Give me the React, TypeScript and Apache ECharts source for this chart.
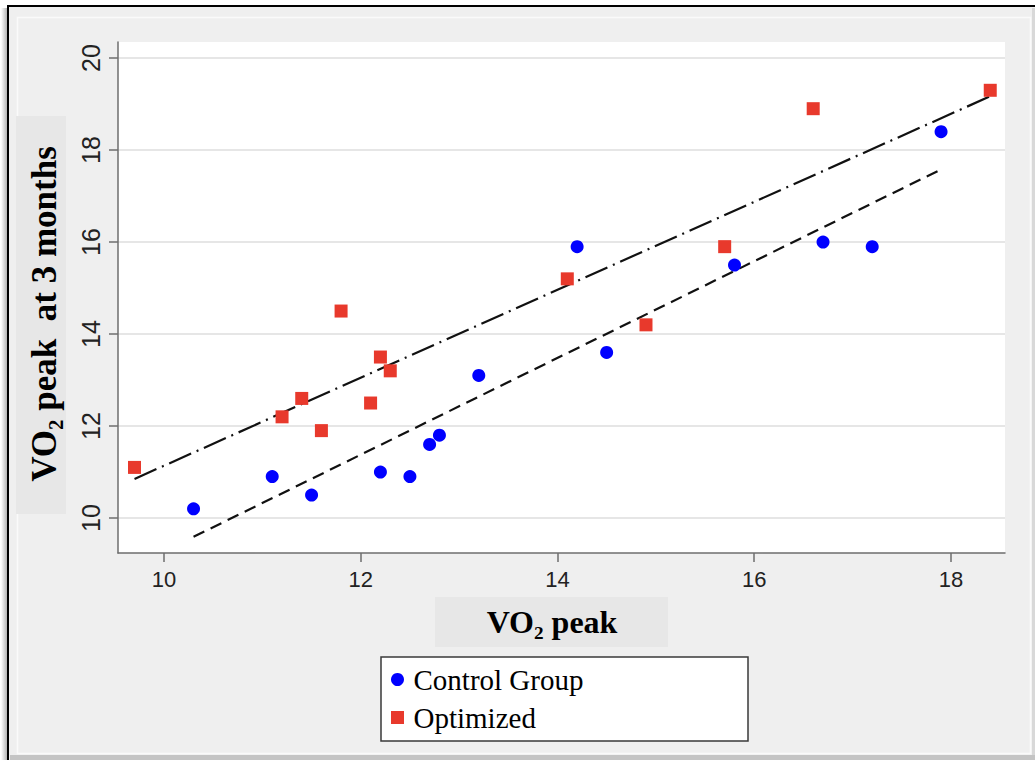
import React, { useEffect, useRef } from "react";
import * as echarts from "echarts";

const xTicks = [10, 12, 14, 16, 18];
const yTicks = [10, 12, 14, 16, 18, 20];

const controlX = [10.3, 11.1, 11.5, 12.2, 12.5, 12.7, 12.8, 13.2, 14.2, 14.5, 15.8, 16.7, 17.2, 17.9];
const controlY = [10.2, 10.9, 10.5, 11.0, 10.9, 11.6, 11.8, 13.1, 15.9, 13.6, 15.5, 16.0, 15.9, 18.4];
const optimizedX = [9.7, 11.2, 11.4, 11.6, 11.8, 12.1, 12.2, 12.3, 14.1, 14.9, 15.7, 16.6, 18.4];
const optimizedY = [11.1, 12.2, 12.6, 11.9, 14.5, 12.5, 13.5, 13.2, 15.2, 14.2, 15.9, 18.9, 19.3];

const controlFitX = [10.3, 17.9];
const controlFitY = [9.59, 17.58];
const optimizedFitX = [9.7, 18.4];
const optimizedFitY = [10.85, 19.17];

const xTitle = "VO₂ peak";
const yTitle = "VO₂ peak  at 3 months";
const legendNames = ["Control Group", "Optimized"];

const zip = (xs: number[], ys: number[]) => xs.map((x, i) => [x, ys[i]]);

export default function App() {
  const ref = useRef<HTMLDivElement>(null);
  useEffect(() => {
    if (!ref.current) return;
    const chart = echarts.init(ref.current, undefined, { renderer: "svg" });
    const labelFont = "Liberation Sans";
    const serif = "Liberation Serif";
    const legendText = {
      fontSize: 29,
      fontFamily: serif,
      fontWeight: "normal",
      color: "#000",
      rich: { t: { fontSize: 29, fontFamily: serif, fontWeight: "normal", color: "#000", padding: [0, 0, 0, 2] } },
    };
    chart.setOption({
      animation: false,
      backgroundColor: "#ffffff",
      textStyle: { fontFamily: serif },
      grid: {
        left: 118,
        top: 42,
        right: 30,
        bottom: 207,
        show: true,
        backgroundColor: "#ffffff",
        borderWidth: 0,
      },
      xAxis: {
        type: "value",
        min: 9.532,
        max: 18.55,
        axisLine: { show: true, onZero: false, lineStyle: { color: "#6e6e6e", width: 1.5 } },
        axisTick: { show: true, length: 9, customValues: xTicks, lineStyle: { color: "#6e6e6e", width: 1.5 } },
        axisLabel: { customValues: xTicks, fontSize: 22, fontFamily: labelFont, color: "#222", margin: 15 },
        splitLine: { show: false },
      },
      yAxis: {
        type: "value",
        min: 9.239,
        max: 20.35,
        axisLine: { show: true, onZero: false, lineStyle: { color: "#6e6e6e", width: 1.5 } },
        axisTick: { show: true, length: 9, customValues: yTicks, lineStyle: { color: "#6e6e6e", width: 1.5 } },
        axisLabel: { customValues: yTicks, rotate: 90, fontSize: 25, fontFamily: labelFont, color: "#222", margin: 15 },
        splitLine: { show: true, lineStyle: { color: "#e6e6e6", width: 2 } },
      },
      legend: {
        data: [
          { name: legendNames[0], icon: "circle" },
          { name: legendNames[1], icon: "path://M0 0H10V10H0Z" },
        ],
        formatter: "{t|{name}}",
        orient: "vertical",
        left: 391,
        top: 665,
        padding: 0,
        itemWidth: 18,
        itemHeight: 13,
        itemGap: 9,
        textStyle: legendText,
      },
      graphic: {
        elements: [
          { type: "rect", z: -20, shape: { x: 0, y: 0, width: 1035, height: 760 }, style: { fill: "#ffffff" } },
          {
            type: "rect", z: -19, shape: { x: 1, y: 8, width: 7, height: 752 },
            style: { fill: new echarts.graphic.LinearGradient(0, 0, 1, 0, [{ offset: 0, color: "#ffffff" }, { offset: 1, color: "#a8a8a8" }]) },
          },
          { type: "rect", z: -18, shape: { x: 8, y: 6, width: 1040, height: 770 }, style: { fill: "#efefef", stroke: "#000000", lineWidth: 2 } },
          { type: "rect", z: -17, shape: { x: 1032, y: 8, width: 3, height: 752 }, style: { fill: "#d8d8d8" } },
          { type: "rect", z: -17, shape: { x: 10, y: 755, width: 1025, height: 5 }, style: { fill: "#c4c4c4" } },
          { type: "rect", z: -16, shape: { x: 17.5, y: 17.5, width: 1013, height: 736 }, style: { fill: "none", stroke: "#fafafa", lineWidth: 1.5 } },
          { type: "rect", z: -15, shape: { x: 16, y: 116, width: 50, height: 398 }, style: { fill: "#e7e7e7" } },
          { type: "rect", z: -15, shape: { x: 435, y: 597, width: 233, height: 50 }, style: { fill: "#e7e7e7" } },
          {
            type: "text", z: 5, x: 44, y: 314, rotation: Math.PI / 2,
            style: { text: yTitle, fontFamily: serif, fontWeight: "bold", fontSize: 35, fill: "#000", align: "center", verticalAlign: "middle" },
          },
          {
            type: "text", z: 5, x: 552, y: 622,
            style: { text: xTitle, fontFamily: serif, fontWeight: "bold", fontSize: 32, fill: "#000", align: "center", verticalAlign: "middle" },
          },
          { type: "rect", z: 1, shape: { x: 381, y: 657, width: 367, height: 84 }, style: { fill: "#ffffff", stroke: "#3a3a3a", lineWidth: 1.5 } },
        ],
      },
      series: [
        {
          name: "Optimized fit",
          type: "line",
          data: zip(optimizedFitX, optimizedFitY),
          symbol: "none",
          silent: true,
          lineStyle: { color: "#111", width: 2.2, type: [24, 6, 2, 6] },
          z: 3,
        },
        {
          name: "Control fit",
          type: "line",
          data: zip(controlFitX, controlFitY),
          symbol: "none",
          silent: true,
          lineStyle: { color: "#111", width: 2.2, type: [12, 7] },
          z: 3,
        },
        {
          name: "Control Group",
          type: "scatter",
          symbol: "circle",
          symbolSize: 13,
          itemStyle: { color: "#0000ff", opacity: 1 },
          data: zip(controlX, controlY),
          z: 4,
        },
        {
          name: "Optimized",
          type: "scatter",
          symbol: "rect",
          symbolSize: 13,
          itemStyle: { color: "#e8392c", opacity: 1 },
          data: zip(optimizedX, optimizedY),
          z: 4,
        },
      ],
    });
    return () => chart.dispose();
  }, []);
  return <div ref={ref} style={{ position: "fixed", left: 0, top: 0, width: 1035, height: 760 }} />;
}
